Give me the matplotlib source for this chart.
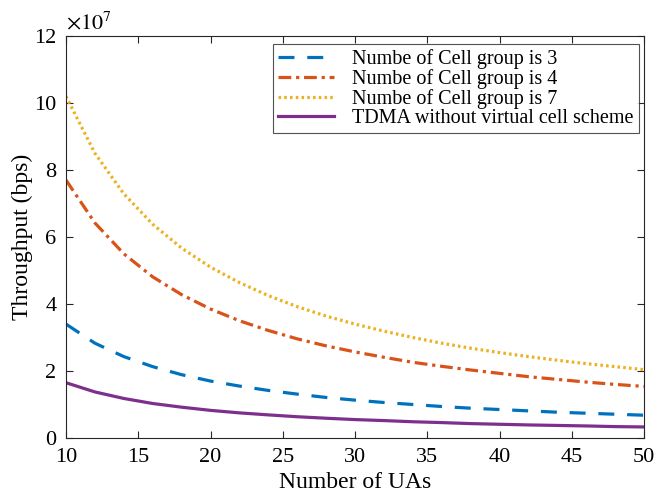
import matplotlib
matplotlib.use("Agg")
import matplotlib.pyplot as plt
from matplotlib.ticker import MultipleLocator

plt.rcParams['font.family'] = ['Liberation Serif', 'DejaVu Serif']
plt.rcParams['mathtext.fontset'] = 'stix'

num_uas = [10, 12, 14, 16, 18, 20, 22, 24, 26, 28, 30, 32, 34, 36, 38, 40, 42, 44, 46, 48, 50]
group3 = [3.40, 2.83, 2.43, 2.13, 1.89, 1.70, 1.55, 1.42, 1.31, 1.21, 1.13, 1.06, 1.00, 0.94, 0.89, 0.85, 0.81, 0.77, 0.74, 0.71, 0.68]
group4 = [7.70, 6.42, 5.50, 4.81, 4.28, 3.85, 3.50, 3.21, 2.96, 2.75, 2.57, 2.41, 2.26, 2.14, 2.03, 1.93, 1.83, 1.75, 1.67, 1.60, 1.54]
group7 = [10.20, 8.50, 7.29, 6.38, 5.67, 5.10, 4.64, 4.25, 3.92, 3.64, 3.40, 3.19, 3.00, 2.83, 2.68, 2.55, 2.43, 2.32, 2.22, 2.13, 2.04]
tdma = [1.65, 1.375, 1.18, 1.03, 0.92, 0.825, 0.75, 0.69, 0.635, 0.59, 0.55, 0.52, 0.485, 0.46, 0.43, 0.41, 0.39, 0.375, 0.36, 0.34, 0.33]

labels = ["Numbe of Cell group is 3", "Numbe of Cell group is 4",
          "Numbe of Cell group is 7", "TDMA without virtual cell scheme"]

fig = plt.figure(figsize=(6.68, 4.95), dpi=100)
ax = fig.add_axes([66/668, 1 - 438/495, (644-66)/668, (438-36)/495])

lw = 2.3
ax.plot(num_uas, group3, color='#0072BD', lw=lw, linestyle=(0, (5, 4)), label=labels[0])
ax.plot(num_uas, group4, color='#D95319', lw=lw, linestyle=(0, (4, 1.5, 1, 1.5)), label=labels[1])
ax.plot(num_uas, group7, color='#EDB120', lw=lw, linestyle=(0, (0.8, 1.0)), label=labels[2])
ax.plot(num_uas, tdma, color='#7E2F8E', lw=lw, linestyle='-', label=labels[3])

ax.set_xlim(10, 50)
ax.set_ylim(0, 12)
ax.xaxis.set_major_locator(MultipleLocator(5))
ax.yaxis.set_major_locator(MultipleLocator(2))

for s in ax.spines.values():
    s.set_color('#262626')
    s.set_linewidth(0.8)
ax.tick_params(direction='in', top=True, right=True, labelsize=16, colors='#262626',
               length=5, width=0.8)
ax.tick_params(axis='x', pad=7)
ax.tick_params(axis='y', pad=7)
for lab in ax.get_xticklabels() + ax.get_yticklabels():
    lab.set_color('black')

ax.set_xlabel('Number of UAs', fontsize=17, labelpad=4)
ax.set_ylabel('Throughput (bps)', fontsize=17, labelpad=1)
ax.text(0.0, 1.005, r'$\times10^{7}$', transform=ax.transAxes, fontsize=16, ha='left', va='bottom')

leg = ax.legend(loc='upper right', fontsize=14.5, frameon=True, fancybox=False,
                edgecolor='#262626', handlelength=2.8, labelspacing=0.0,
                borderpad=0.25, handletextpad=0.9, borderaxespad=0.0,
                bbox_to_anchor=(0.991, 0.980))
leg.get_frame().set_linewidth(0.8)

fig.savefig('out.png', dpi=100)
